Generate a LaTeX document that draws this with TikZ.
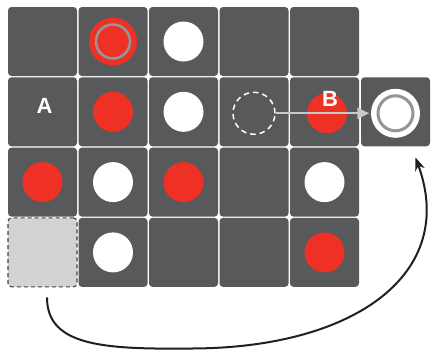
\documentclass[tikz,border=0pt]{standalone}
\usepackage{fontspec}
\setmainfont{Liberation Sans}
\usetikzlibrary{arrows.meta,calc}
\definecolor{cellgray}{HTML}{58595B}
\definecolor{redd}{HTML}{EE3124}
\definecolor{ringgray}{HTML}{939598}
\definecolor{arrgray}{HTML}{C7C8CA}
\definecolor{ghost}{HTML}{D1D3D4}
\definecolor{ink}{HTML}{231F20}
\tikzset{
  cell/.style={rectangle,minimum width=69pt,minimum height=69pt,inner sep=0pt,rounded corners=3.5pt,fill=cellgray},
  ghostcell/.style={rectangle,minimum width=69pt,minimum height=69pt,inner sep=0pt,rounded corners=3.5pt,fill=ghost,draw=ink!85,dashed,dash pattern=on 4pt off 3pt,line width=1.1pt},
  reddisc/.style={circle,minimum size=40pt,inner sep=0pt,fill=redd},
  whitedisc/.style={circle,minimum size=40pt,inner sep=0pt,fill=white},
  lbl/.style={text=white,font=\fontsize{22}{22}\selectfont\bfseries,inner sep=0pt},
}
\begin{document}
\begin{tikzpicture}[x=1pt,y=-1pt]
\useasboundingbox (0,0) rectangle (432,349);
% grid cells
\foreach \c in {1,...,5}{
  \foreach \r in {1,...,4}{
    \pgfmathsetmacro{\cx}{42.5+70.5*(\c-1)}
    \pgfmathsetmacro{\cy}{41.5+70.3*(\r-1)}
    \ifnum\c=1 \ifnum\r=4
      \node[ghostcell] (c\c\r) at (\cx,\cy) {};
    \else
      \node[cell] (c\c\r) at (\cx,\cy) {};
    \fi\else
      \node[cell] (c\c\r) at (\cx,\cy) {};
    \fi
  }
}
\node[cell] (goal) at (395.5,111.8) {};
% row 1
\node[circle,minimum size=48pt,inner sep=0pt,fill=redd] (start) at (c21) {};
\node[circle,minimum size=34pt,inner sep=0pt,draw=ringgray,line width=2.6pt] (startring) at (c21) {};
\node[whitedisc] (w31) at (c31) {};
% row 2
\node[lbl] (A) at ($(c12)+(2,-6)$) {A};
\node[reddisc] (r22) at (c22) {};
\node[whitedisc] (w32) at (c32) {};
\node[circle,minimum size=42pt,inner sep=0pt,draw=white,line width=1.5pt,dash pattern=on 5.5pt off 4pt] (ghostball) at ($(c42)+(0,1.5)$) {};
\node[reddisc] (r52) at ($(c52)+(2.5,1.5)$) {};
\node[lbl] (B) at ($(c52)+(5.5,-12.5)$) {B};
\node[circle,minimum size=49pt,inner sep=0pt,fill=white] (goaldisc) at ($(goal)+(0,1.5)$) {};
\node[circle,minimum size=35pt,inner sep=0pt,draw=ringgray,line width=3pt] (goalring) at (goaldisc) {};
% row 3
\node[reddisc] (r13) at (c13) {};
\node[whitedisc] (w23) at (c23) {};
\node[reddisc] (r33) at (c33) {};
\node[whitedisc] (w53) at (c53) {};
% row 4
\node[whitedisc] (w24) at (c24) {};
\node[reddisc] (r54) at (c54) {};
% straight arrow
\draw[arrgray,line width=2.2pt,-{Triangle[length=12pt,width=11pt]}] (ghostball.east) -- ($(goaldisc.west)+(-1.5,0)$);
% curved arrow
\coordinate (from) at ($(c14.south)+(4.5,10)$);
\coordinate (to) at ($(goal.south)+(20,11)$);
\draw[ink,line width=2pt,-{Stealth[length=13pt,width=10pt]}] (from) .. controls ($(from)+(0,50)$) and ($(from)+(60,52)$) .. ($(from)+(150,51)$) .. controls ($(from)+(310,49)$) and ($(to)+(42,115)$) .. (to);
\end{tikzpicture}
\end{document}
